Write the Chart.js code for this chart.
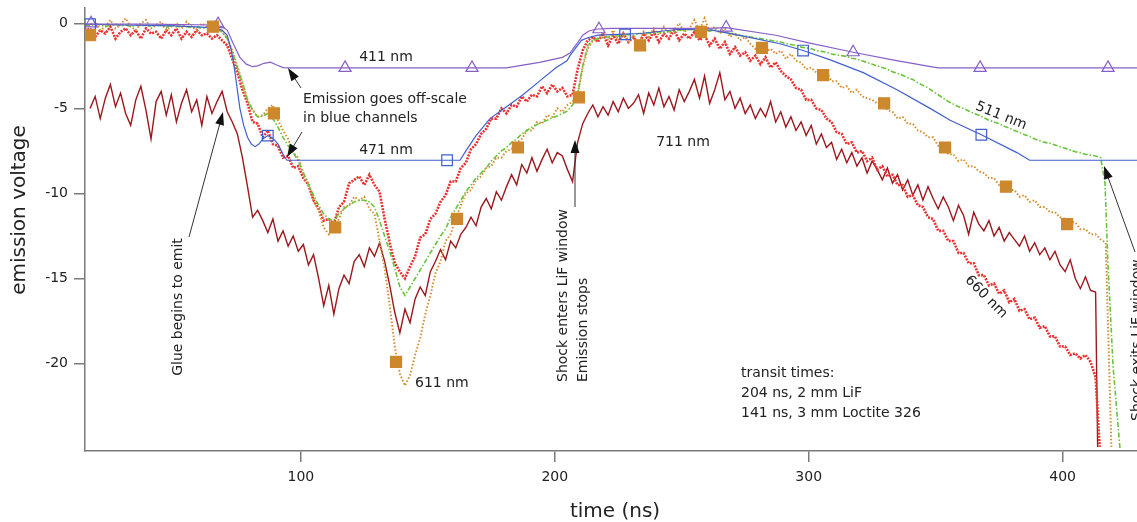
<!DOCTYPE html>
<html><head><meta charset="utf-8">
<script src="https://cdn.jsdelivr.net/npm/chart.js@4.4.1/dist/chart.umd.min.js"></script>
<style>html,body{margin:0;padding:0;background:#fff;overflow:hidden}canvas{display:block}</style>
</head><body>
<canvas id="c" width="1137" height="522"></canvas>
<script>
// ---------- axis ticks ----------
const xTicks = [100, 200, 300, 400];
const yTicks = [0, -5, -10, -15, -20];

// ---------- noisy channels: sampled every 2 ns ----------
const STEP = 2;
const start711 = 17;
const v711 = [
-5.0,-4.3,-5.6,-4.4,-3.6,-4.9,-4.1,-5.3,-6.0,-4.5,
-3.7,-5.1,-6.8,-4.6,-4.0,-5.4,-4.2,-5.8,-4.7,-3.9,
-5.2,-4.5,-6.0,-4.3,-5.3,-4.6,-4.0,-5.2,-5.8,-6.5,
-7.9,-9.6,-11.4,-11.0,-11.6,-12.3,-11.5,-12.8,-12.2,-13.1,
-12.5,-13.4,-13.0,-14.2,-13.6,-15.0,-16.6,-15.4,-17.1,-15.6,
-14.8,-15.3,-14.0,-13.6,-14.3,-13.2,-13.7,-12.9,-14.0,-15.4,
-17.0,-18.2,-16.8,-17.6,-16.2,-15.5,-16.0,-14.6,-14.0,-13.3,
-13.9,-12.8,-13.2,-12.4,-12.0,-11.4,-11.9,-10.8,-10.3,-10.9,
-9.9,-10.4,-9.6,-8.9,-9.5,-8.3,-8.8,-7.9,-8.7,-8.0,
-7.4,-8.2,-7.6,-7.8,-8.6,-9.3,-7.0,-5.9,-5.3,-4.8,
-5.5,-4.9,-5.4,-4.6,-5.2,-4.4,-5.0,-4.7,-4.2,-5.3,
-4.1,-4.8,-3.8,-4.9,-4.3,-5.1,-3.9,-4.6,-4.0,-3.3,
-4.4,-3.1,-4.7,-3.9,-2.9,-4.5,-4.0,-5.0,-4.4,-5.3,
-4.8,-5.6,-5.0,-5.5,-4.6,-5.8,-5.2,-6.1,-5.5,-6.3,
-5.8,-6.6,-6.0,-7.1,-6.5,-7.3,-7.0,-8.0,-7.4,-8.2,
-7.6,-8.4,-7.9,-8.8,-8.1,-8.6,-9.2,-8.5,-9.4,-8.9,
-9.8,-9.2,-10.1,-9.5,-10.4,-9.6,-10.3,-10.9,-10.2,-10.8,
-11.6,-10.7,-11.3,-12.4,-11.1,-11.8,-12.2,-11.6,-12.5,-12.0,
-12.8,-12.3,-12.7,-13.1,-12.5,-13.4,-12.9,-13.6,-13.2,-13.9,
-13.4,-14.2,-14.6,-13.9,-15.0,-15.6,-14.9,-15.7,-15.8];
const tail711 = [[413.8, -24.9]];

const start660 = 15;
const v660 = [
-0.5,-0.3,-0.8,-0.4,-0.6,-0.2,-0.9,-0.5,-0.3,-0.7,
-0.4,-0.9,-0.3,-0.6,-0.5,-0.9,-0.4,-0.7,-0.3,-0.9,
-0.5,-0.8,-0.4,-0.7,-0.6,-0.9,-0.7,-1.0,-1.3,-2.1,
-2.9,-3.9,-4.7,-5.8,-5.9,-6.7,-6.3,-7.1,-7.2,-7.9,
-7.8,-8.5,-8.4,-9.1,-9.5,-10.4,-10.9,-11.6,-11.5,-11.8,
-10.8,-10.5,-9.4,-9.2,-9.0,-9.5,-8.9,-9.5,-9.9,-11.5,
-12.9,-14.1,-14.6,-15.0,-14.3,-13.7,-12.6,-12.4,-11.5,-11.2,
-10.5,-10.1,-9.3,-9.3,-8.5,-8.2,-7.4,-7.1,-6.5,-6.2,
-5.6,-5.6,-5.0,-5.3,-4.8,-4.9,-4.3,-4.6,-4.2,-4.3,
-3.7,-4.1,-3.6,-4.0,-3.8,-4.3,-4.2,-2.7,-1.6,-1.0,
-0.8,-1.1,-0.6,-1.3,-0.7,-1.2,-0.6,-1.1,-0.8,-1.3,
-0.6,-1.0,-0.5,-1.1,-0.6,-0.9,-0.4,-1.0,-0.6,-0.9,
-0.5,-1.0,-0.7,-1.3,-0.9,-1.5,-1.1,-1.8,-1.4,-1.9,
-1.7,-2.2,-1.9,-2.4,-2.0,-2.6,-2.3,-2.8,-3.1,-3.3,
-3.8,-3.9,-4.5,-4.5,-5.0,-5.1,-5.6,-5.8,-6.4,-6.5,
-7.1,-7.0,-7.6,-7.5,-8.1,-7.9,-8.6,-8.4,-9.0,-8.9,
-9.5,-9.5,-10.2,-10.1,-10.7,-10.8,-11.4,-11.5,-12.2,-12.2,
-12.8,-12.8,-13.5,-13.5,-14.1,-14.1,-14.8,-14.8,-15.4,-15.3,
-15.9,-15.7,-16.4,-16.2,-16.9,-16.8,-17.4,-17.3,-17.9,-17.8,
-18.4,-18.4,-19.0,-19.0,-19.5,-19.4,-19.7,-19.5,-19.9,-20.8];
const tail660 = [[414.6, -24.9]];

const start611 = 15;
const v611 = [
-0.3,-0.1,0.1,-0.4,-0.2,0.2,-0.3,-0.1,0.3,-0.2,
-0.4,0.0,0.2,-0.3,-0.1,0.1,-0.4,-0.2,0.0,-0.3,
0.1,-0.2,-0.4,0.0,-0.2,-0.1,-0.3,-0.5,-0.9,-1.6,
-2.5,-3.5,-4.5,-5.1,-5.5,-5.4,-5.0,-4.8,-5.7,-6.3,
-6.8,-7.6,-7.9,-8.8,-9.4,-10.4,-11.0,-12.0,-12.4,-12.0,
-11.5,-10.8,-10.7,-10.2,-10.4,-10.2,-10.9,-11.2,-12.8,-14.4,
-16.6,-19.0,-20.6,-21.3,-20.7,-19.5,-18.5,-17.1,-16.0,-14.7,
-14.0,-12.8,-12.4,-11.5,-10.7,-10.0,-9.8,-9.2,-9.0,-8.5,
-8.4,-7.9,-7.9,-7.5,-7.4,-7.0,-6.8,-6.3,-6.3,-5.8,
-5.9,-5.4,-5.5,-5.0,-5.2,-4.8,-4.6,-4.2,-2.6,-1.5,
-1.0,-0.9,-0.5,-1.0,-0.4,-1.0,-0.6,-1.1,-0.7,-1.2,
-0.5,-0.8,-0.3,-0.7,-0.2,-0.6,-0.4,0.0,-0.5,-0.3,
0.2,-0.4,0.3,-0.5,-0.2,-0.6,-0.3,-0.8,-0.6,-1.0,
-0.8,-1.2,-1.5,-1.2,-1.7,-1.5,-1.8,-1.6,-2.1,-1.8,
-2.2,-2.3,-2.7,-2.6,-2.9,-3.1,-2.9,-3.4,-3.4,-3.8,
-3.7,-4.1,-3.9,-4.3,-4.4,-4.5,-4.7,-4.7,-5.1,-5.2,
-5.6,-5.5,-5.9,-5.9,-6.3,-6.4,-6.7,-6.7,-7.2,-7.2,
-7.7,-7.7,-8.1,-8.0,-8.4,-8.4,-8.7,-8.8,-9.1,-9.1,
-9.5,-9.4,-9.8,-9.8,-10.2,-10.1,-10.5,-10.4,-10.8,-10.8,
-11.1,-11.1,-11.4,-11.5,-11.7,-11.7,-12.1,-12.1,-12.4,-12.4,
-12.7,-12.9];
const tail611 = [[419.2, -24.9]];

const start511 = 15;
const v511 = [
-0.1,-0.15,-0.05,-0.1,-0.2,-0.1,-0.05,-0.15,-0.1,-0.2,
-0.1,-0.15,-0.1,-0.2,-0.1,-0.15,-0.25,-0.1,-0.2,-0.15,
-0.2,-0.25,-0.2,-0.3,-0.25,-0.3,-0.35,-0.5,-0.9,-1.7,
-2.6,-3.5,-4.5,-5.1,-5.5,-5.45,-5.3,-5.6,-6.1,-6.7,
-7.2,-7.6,-8.1,-8.8,-9.5,-10.1,-10.7,-11.2,-11.5,-11.6,
-11.2,-10.9,-10.7,-10.5,-10.4,-10.4,-10.5,-10.8,-11.6,-12.5,
-13.4,-14.4,-15.5,-16.0,-15.5,-15.0,-14.5,-14.0,-13.5,-13.0,
-12.5,-12.1,-11.4,-10.9,-10.4,-9.9,-9.5,-9.1,-8.8,-8.5,
-8.1,-7.8,-7.5,-7.3,-7.0,-6.8,-6.5,-6.3,-6.1,-5.95,
-5.8,-5.7,-5.55,-5.45,-5.3,-5.15,-4.8,-4.2,-2.5,-1.3,
-1.0,-0.9,-0.85,-0.8,-0.75,-0.75,-0.7,-0.65,-0.7,-0.6,
-0.6,-0.55,-0.6,-0.5,-0.55,-0.45,-0.5,-0.4,-0.45,-0.35,
-0.4,-0.35,-0.4,-0.45,-0.4,-0.5,-0.5,-0.6,-0.6,-0.7,
-0.75,-0.8,-0.85,-0.9,-0.95,-1.0,-1.05,-1.1,-1.2,-1.25,
-1.3,-1.4,-1.45,-1.5,-1.6,-1.65,-1.7,-1.8,-1.85,-1.9,
-1.95,-2.05,-2.1,-2.2,-2.3,-2.4,-2.5,-2.6,-2.7,-2.85,
-2.95,-3.05,-3.2,-3.3,-3.5,-3.65,-3.8,-4.0,-4.2,-4.4,
-4.6,-4.75,-4.9,-5.0,-5.15,-5.3,-5.4,-5.55,-5.7,-5.8,
-5.9,-6.05,-6.15,-6.3,-6.4,-6.55,-6.65,-6.8,-6.9,-7.0,
-7.05,-7.15,-7.25,-7.35,-7.45,-7.55,-7.6,-7.7,-7.75,-7.8,
-7.9];
const tail511 = [[416.7, -9.4], [417.9, -14.3], [419.9, -20.2], [422.6, -25.0]];

// ---------- smooth (saturating) channels: [time, volts] ----------
const pts471 = [[15,-0.05],[30,-0.1],[50,-0.15],[65,-0.25],[69,-0.4],[71,-0.7],[72.5,-1.5],[73.5,-2.3],
[74.8,-3.7],[76,-5.0],[77.5,-6.0],[79,-6.7],[80.5,-7.1],[82,-7.25],[83.5,-7.1],[85,-6.8],[87,-6.6],
[89,-6.75],[91,-7.1],[93,-7.7],[94.5,-8.05],[162.7,-8.05],[165,-7.5],[169,-6.6],[174.5,-5.6],[181,-4.9],
[187.5,-4.2],[194,-3.4],[200.6,-2.6],[204.8,-2.2],[206,-1.9],[208.7,-1.35],[210.5,-1.0],[213,-0.85],
[217,-0.7],[225,-0.65],[233.6,-0.6],[249,-0.35],[262,-0.4],[275.7,-0.8],[288.7,-1.2],[297.8,-1.6],
[308.5,-2.15],[321.5,-2.9],[334.8,-3.9],[347.8,-5.0],[355.7,-5.7],[368,-6.55],[382,-7.6],[387,-8.05],[429.3,-8.05]];
const pts411 = [[15,-0.05],[40,-0.05],[66,-0.1],[69,-0.2],[71,-0.4],[73.4,-1.2],[76,-2.0],[78.5,-2.4],
[81,-2.55],[83,-2.5],[85.5,-2.35],[88,-2.28],[90.5,-2.45],[93,-2.6],[95,-2.62],[181,-2.62],[194,-2.3],
[203,-2.0],[206,-1.75],[208.7,-1.2],[211,-0.7],[213.5,-0.45],[216,-0.35],[222,-0.3],[260,-0.3],
[267.5,-0.25],[287,-0.7],[300,-1.15],[317.5,-1.7],[333,-2.15],[348,-2.55],[351,-2.62],[429.3,-2.62]];

// ---------- marker positions ----------
const mk411 = [[17.4,0.0],[67.4,-0.05],[117.4,-2.62],[167.4,-2.62],[217.4,-0.35],[267.5,-0.25],[317.5,-1.7],[367.5,-2.62],[417.9,-2.62]];
const mk471 = [[17,-0.05],[87,-6.6],[157.6,-8.05],[227.7,-0.65],[297.8,-1.6],[368,-6.55]];
const mk611 = [[17,-0.7],[65.4,-0.2],[89.4,-5.3],[113.5,-12.0],[137.5,-19.9],[161.5,-11.5],[185.5,-7.3],[209.5,-4.35],
[233.6,-1.3],[257.6,-0.5],[281.6,-1.45],[305.7,-3.05],[329.7,-4.7],[353.7,-7.3],[377.7,-9.6],[401.8,-11.8]];

// ---------- helpers ----------
const sampled = (start, vals, tail) =>
  vals.map((v, i) => ({x: start + i * STEP, y: v})).concat(tail.map(([x, y]) => ({x, y})));
const pairs = arr => arr.map(([x, y]) => ({x, y}));

const C711 = 'rgb(155,25,30)', C660 = 'rgb(236,48,48)', C611 = 'rgb(214,140,45)',
      C511 = 'rgb(105,195,60)', C471 = 'rgb(65,95,205)', C411 = 'rgb(135,95,200)';
const FONT = '"DejaVu Sans", sans-serif';

const lineDs = (label, data, color, width, dash, order) => ({
  type: 'line', label, data, borderColor: color, borderWidth: width, borderDash: dash,
  pointRadius: 0, tension: 0, fill: false, order
});
const markDs = (label, data, style, color, fill, r, order) => ({
  type: 'scatter', label, data, showLine: false, pointStyle: style, pointRadius: r,
  borderColor: color, backgroundColor: fill, pointBorderWidth: 1.2, order
});

// ---------- annotations ----------
function arrow(ctx, x1, y1, x2, y2) {
  ctx.save();
  ctx.strokeStyle = '#333'; ctx.fillStyle = '#111'; ctx.lineWidth = 1;
  const a = Math.atan2(y2 - y1, x2 - x1), L = 13, W = 4.5;
  ctx.beginPath(); ctx.moveTo(x1, y1);
  ctx.lineTo(x2 - Math.cos(a) * L * 0.8, y2 - Math.sin(a) * L * 0.8); ctx.stroke();
  ctx.beginPath(); ctx.moveTo(x2, y2);
  ctx.lineTo(x2 - Math.cos(a) * L + Math.sin(a) * W, y2 - Math.sin(a) * L - Math.cos(a) * W);
  ctx.lineTo(x2 - Math.cos(a) * L - Math.sin(a) * W, y2 - Math.sin(a) * L + Math.cos(a) * W);
  ctx.closePath(); ctx.fill();
  ctx.restore();
}
function txt(ctx, s, x, y, opt = {}) {
  ctx.save();
  ctx.font = (opt.size || 14) + 'px ' + FONT;
  ctx.fillStyle = opt.color || '#222';
  ctx.textAlign = opt.align || 'left';
  ctx.textBaseline = opt.base || 'middle';
  ctx.translate(x, y);
  if (opt.rot) ctx.rotate(opt.rot * Math.PI / 180);
  ctx.fillText(s, 0, 0);
  ctx.restore();
}
const annot = {
  id: 'annot',
  afterDraw(chart) {
    const ctx = chart.ctx;
    // axis titles
    txt(ctx, 'emission voltage', 25, 210, {size: 20, rot: -90, align: 'center', base: 'alphabetic'});
    txt(ctx, 'time (ns)', 615, 517, {size: 20, align: 'center', base: 'alphabetic'});
    // series labels
    txt(ctx, '411 nm', 386, 57, {align: 'center'});
    txt(ctx, '471 nm', 386, 150, {align: 'center'});
    txt(ctx, '711 nm', 683, 142, {align: 'center'});
    txt(ctx, '611 nm', 415, 383);
    txt(ctx, '511 nm', 1001, 116, {align: 'center', rot: 22});
    txt(ctx, '660 nm', 986, 297, {align: 'center', rot: 45});
    // notes
    txt(ctx, 'Emission goes off-scale', 303, 99);
    txt(ctx, 'in blue channels', 303, 118);
    arrow(ctx, 301, 88, 288, 68);
    arrow(ctx, 302, 132, 287, 157);
    txt(ctx, 'Glue begins to emit', 178, 307, {rot: -90, align: 'center'});
    arrow(ctx, 189, 237, 223, 112);
    txt(ctx, 'Shock enters LiF window', 563, 382, {rot: -90});
    txt(ctx, 'Emission stops', 583, 382, {rot: -90});
    arrow(ctx, 575, 207, 575, 140);
    txt(ctx, 'Shock exits LiF window', 1137, 421, {rot: -90});
    arrow(ctx, 1135, 252, 1104, 166);
    txt(ctx, 'transit times:', 741, 373);
    txt(ctx, '204 ns, 2 mm LiF', 741, 393);
    txt(ctx, '141 ns, 3 mm Loctite 326', 741, 413);
  }
};

const noPad = s => { s.paddingTop = 0; s.paddingBottom = 0; s.paddingLeft = 0; s.paddingRight = 0; };
const axisCommon = {
  type: 'linear',
  ticks: {font: {family: FONT, size: 14}, color: '#222', autoSkip: false, maxRotation: 0},
  grid: {display: true, drawOnChartArea: false, drawTicks: true, tickLength: 11, color: '#7a7a7a', lineWidth: 1.5},
  border: {display: true, color: '#7a7a7a', width: 1.5}
};

new Chart(document.getElementById('c'), {
  data: {
    datasets: [
      markDs('611 markers', pairs(mk611), 'rect', 'rgb(205,135,45)', 'rgb(205,135,45)', 7.8, 0),
      markDs('471 markers', pairs(mk471), 'rect', C471, 'rgba(0,0,0,0)', 7.5, 0),
      markDs('411 markers', pairs(mk411), 'triangle', C411, 'rgba(0,0,0,0)', 7, 0),
      lineDs('411 nm', pairs(pts411), C411, 1.2, [], 1),
      lineDs('471 nm', pairs(pts471), C471, 1.2, [], 2),
      lineDs('511 nm', sampled(start511, v511, tail511), C511, 1.6, [5, 2, 1.5, 2], 3),
      lineDs('611 nm', sampled(start611, v611, tail611), C611, 2, [1.5, 2], 4),
      lineDs('660 nm', sampled(start660, v660, tail660), C660, 2.6, [2, 1.2], 5),
      lineDs('711 nm', sampled(start711, v711, tail711), C711, 1.4, [], 6)
    ]
  },
  options: {
    responsive: false, devicePixelRatio: 1, animation: false,
    layout: {padding: {top: 8, right: 0, bottom: 0, left: 0}, autoPadding: false},
    plugins: {legend: {display: false}, tooltip: {enabled: false}},
    scales: {
      x: Object.assign({}, axisCommon, {
        position: 'bottom', min: 15, max: 429.3,
        ticks: Object.assign({}, axisCommon.ticks, {padding: 7}),
        afterBuildTicks: s => { s.ticks = xTicks.map(v => ({value: v})); },
        afterFit: s => { s.height = 71; noPad(s); }
      }),
      y: Object.assign({}, axisCommon, {
        position: 'left', min: -25.14, max: 0.9,
        ticks: Object.assign({}, axisCommon.ticks, {padding: 6}),
        afterBuildTicks: s => { s.ticks = yTicks.map(v => ({value: v})); },
        afterFit: s => { s.width = 85; noPad(s); }
      })
    }
  },
  plugins: [annot]
});
</script></body></html>
